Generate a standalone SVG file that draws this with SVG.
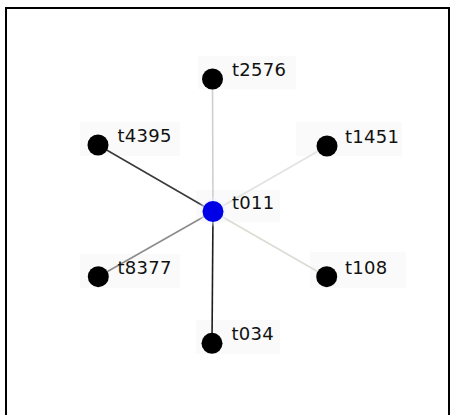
<svg xmlns="http://www.w3.org/2000/svg" width="450" height="415" viewBox="0 0 450 415">
  <style>
    .frame { stroke: #000; stroke-width: 2; fill: none; }
    .edge { stroke-width: 1.6; fill: none; }
    .node { fill: #000; }
    .hub { fill: #0000e6; }
    .lblbg { fill: #fafafa; }
    .lbl { font-family: "DejaVu Sans", Verdana, sans-serif; font-size: 18px; letter-spacing: 0.3px; fill: #111; }
  </style>
  <defs>
    <radialGradient id="glow">
      <stop offset="0.5" stop-color="#dfe6ff" stop-opacity="0.9"/>
      <stop offset="1" stop-color="#ffffff" stop-opacity="0"/>
    </radialGradient>
  </defs>
  <rect width="450" height="415" fill="#fff"/>
  <!-- outer frame: top, left and right sides -->
  <path class="frame" d="M6 415 V8 H449 V415"/>

  <!-- label backdrops -->
  <g id="label-backdrops">
    <rect class="lblbg" x="198" y="56" width="98" height="33"/>
    <rect class="lblbg" x="80" y="122" width="100" height="34"/>
    <rect class="lblbg" x="296" y="122" width="106" height="34"/>
    <rect class="lblbg" x="196" y="190" width="84" height="32"/>
    <rect class="lblbg" x="80" y="254" width="100" height="34"/>
    <rect class="lblbg" x="310" y="252" width="96" height="36"/>
    <rect class="lblbg" x="196" y="320" width="84" height="34"/>
  </g>

  <g id="connectors">
    <line class="edge" x1="213" y1="211.5" x2="212.5" y2="79" stroke="#cfcfcf"/>
    <line class="edge" x1="213" y1="211.5" x2="98" y2="145" stroke="#3a3a3a"/>
    <line class="edge" x1="213" y1="211.5" x2="327" y2="146" stroke="#e2e2e2"/>
    <line class="edge" x1="213" y1="211.5" x2="98.3" y2="276.7" stroke="#8c8c8c"/>
    <line class="edge" x1="213" y1="211.5" x2="326.7" y2="276.7" stroke="#dcdcd4"/>
    <line class="edge" x1="213" y1="211.5" x2="212" y2="343.3" stroke="#1e1e1e"/>
  </g>

  <g id="t2576">
    <circle class="node" cx="212.5" cy="79" r="10.5"/>
    <text class="lbl" x="232" y="76">t2576</text>
  </g>
  <g id="t4395">
    <circle class="node" cx="98" cy="145" r="10.5"/>
    <text class="lbl" x="117.5" y="142">t4395</text>
  </g>
  <g id="t1451">
    <circle class="node" cx="327" cy="146" r="10.5"/>
    <text class="lbl" x="345" y="143">t1451</text>
  </g>
  <g id="t011">
    <circle cx="213" cy="211.5" r="16" fill="url(#glow)"/>
    <circle class="hub" cx="213" cy="211.5" r="10.5"/>
    <text class="lbl" x="232" y="208.5">t011</text>
  </g>
  <g id="t8377">
    <circle class="node" cx="98.3" cy="276.7" r="10.5"/>
    <text class="lbl" x="117.5" y="274">t8377</text>
  </g>
  <g id="t108">
    <circle class="node" cx="326.7" cy="276.7" r="10.5"/>
    <text class="lbl" x="345" y="274">t108</text>
  </g>
  <g id="t034">
    <circle class="node" cx="212" cy="343.3" r="10.5"/>
    <text class="lbl" x="231.5" y="340">t034</text>
  </g>
</svg>
